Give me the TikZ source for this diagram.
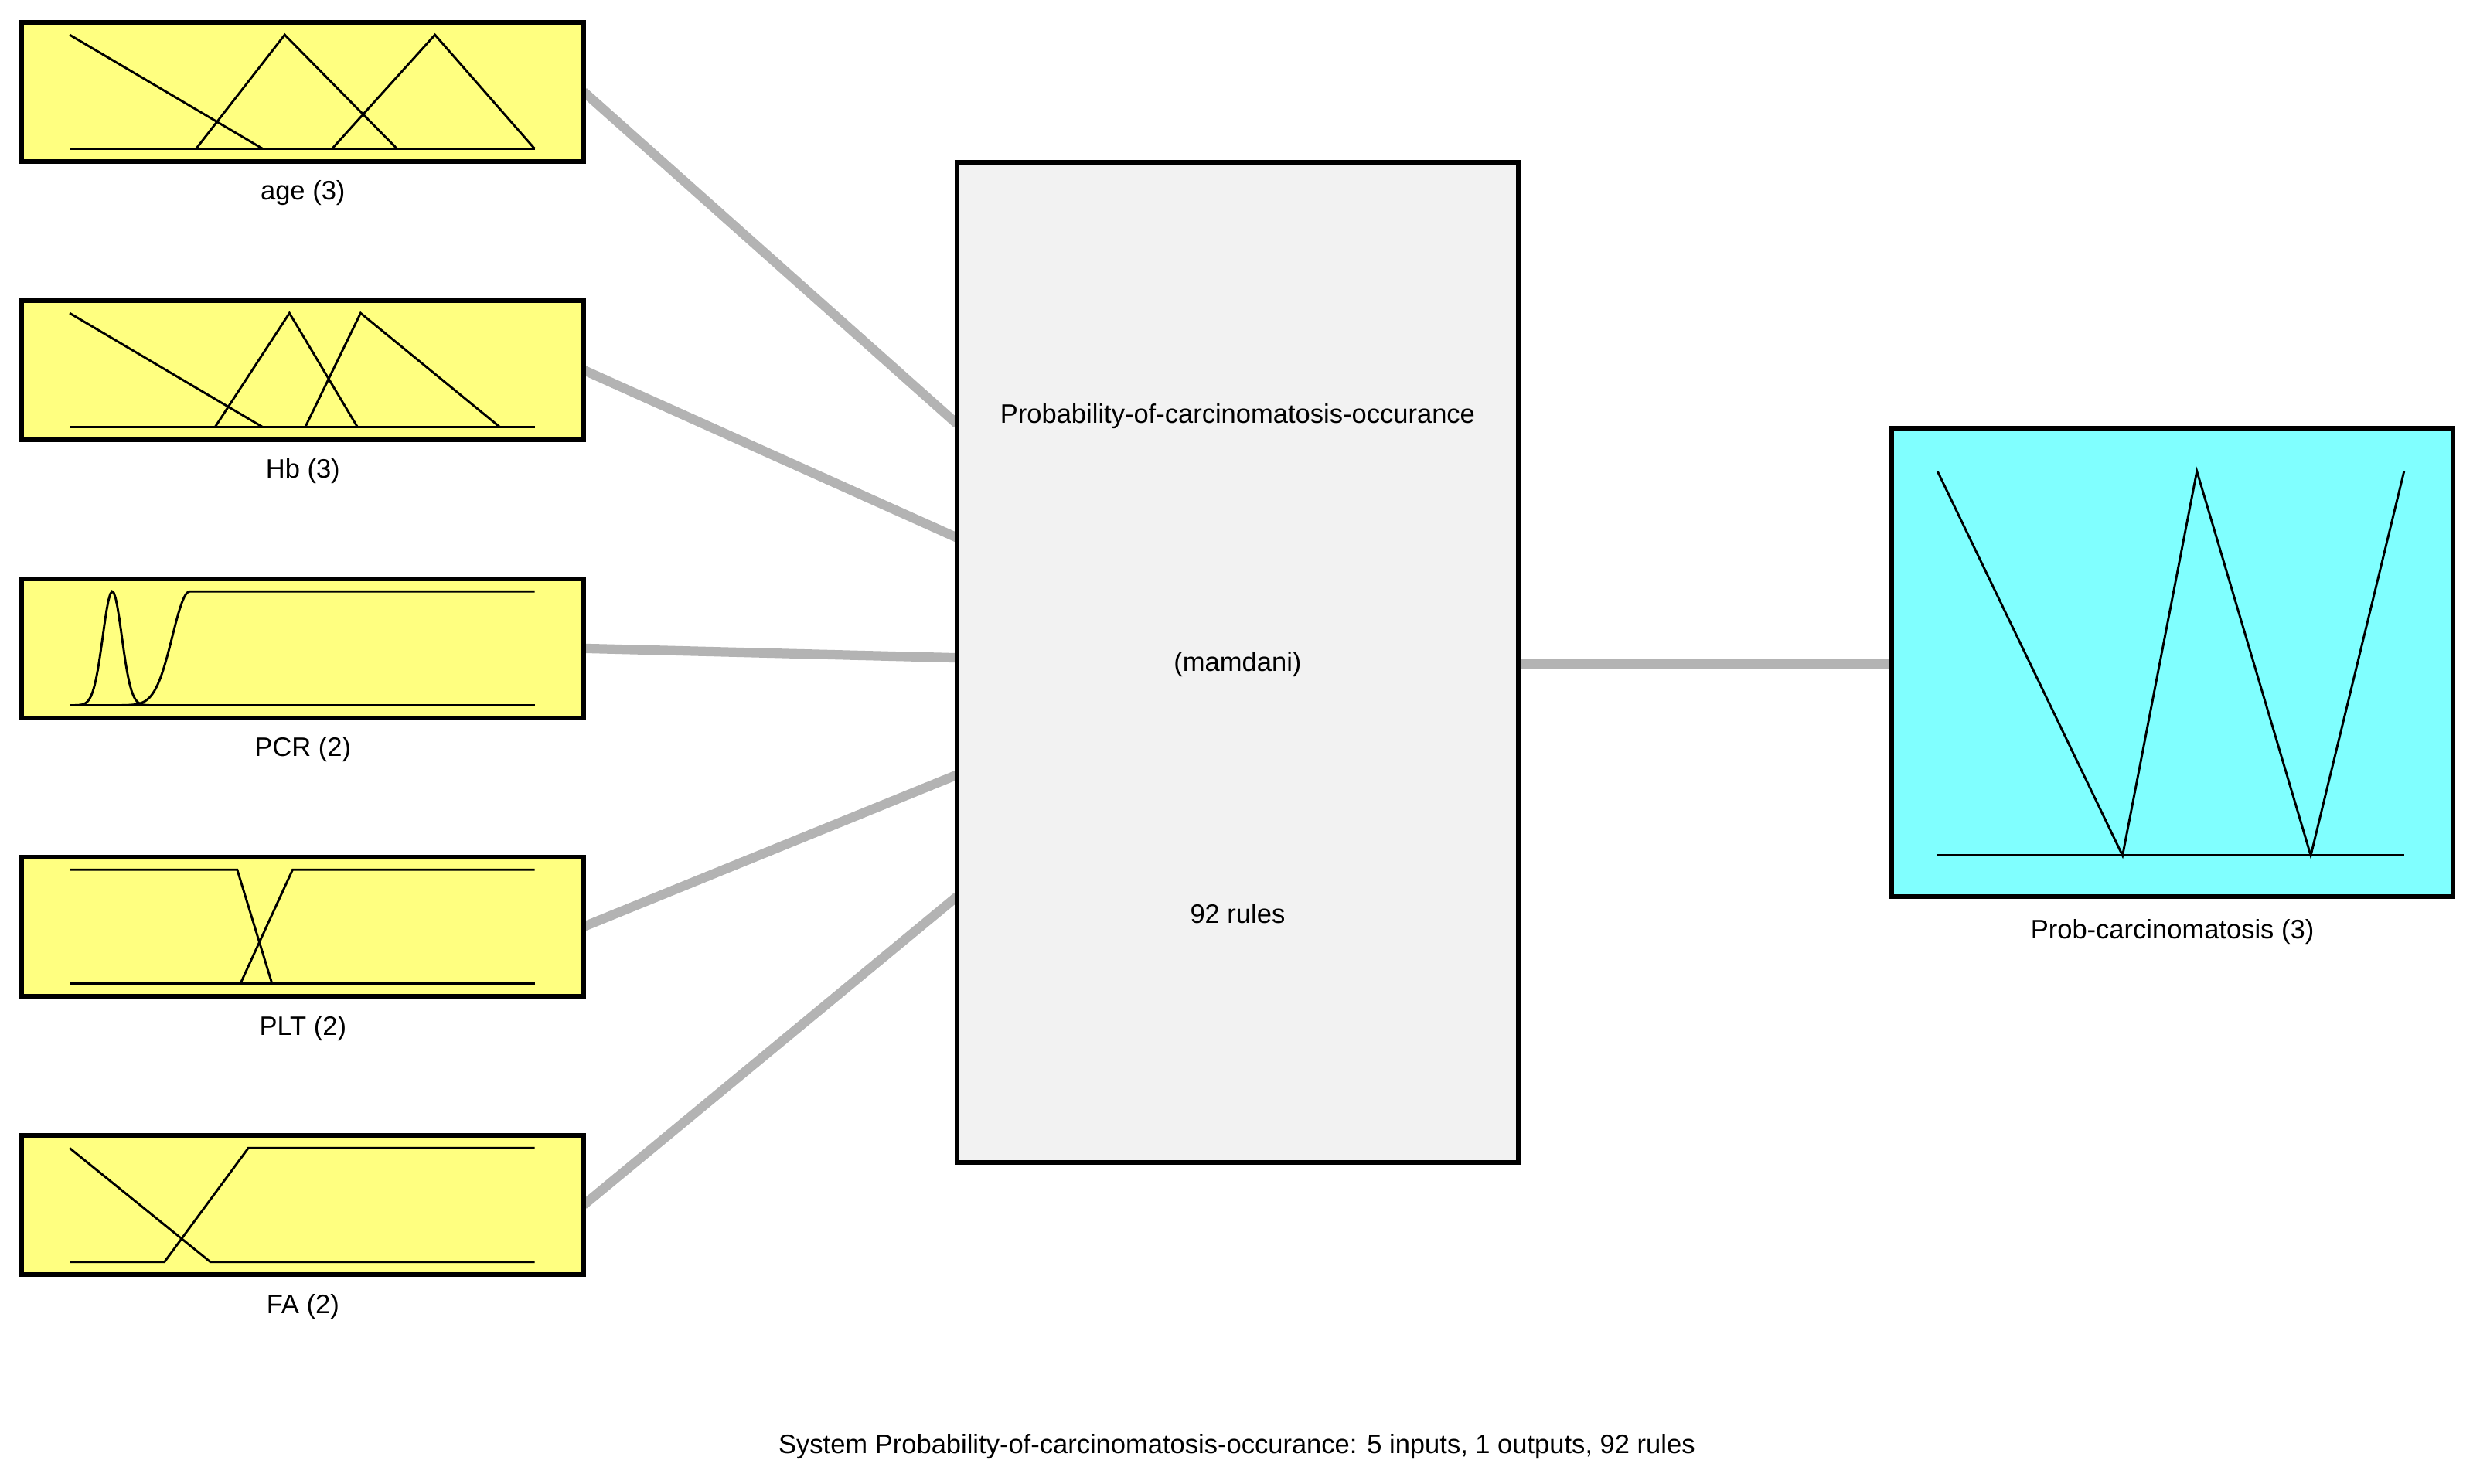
\documentclass[tikz,border=0pt]{standalone}
\usepackage{fontspec}
\setmainfont{Liberation Sans}
\usetikzlibrary{positioning}
\definecolor{inyellow}{RGB}{255, 255, 128}
\definecolor{outcyan}{RGB}{128, 255, 255}
\definecolor{rulegray}{RGB}{242, 242, 242}
\definecolor{linkgray}{RGB}{179, 179, 179}

\begin{document}
\begin{tikzpicture}[
        x=0.01cm, y=-0.01cm,
        every node/.style={font=\fontsize{4.8}{6}\selectfont, inner sep=0pt},
        varbox/.style={rectangle, draw=black, line width=0.85pt, fill=inyellow, minimum width=3.55cm, minimum height=0.88cm},
        outbox/.style={rectangle, draw=black, line width=0.85pt, fill=outcyan, minimum width=3.55cm, minimum height=2.96cm},
        rulebox/.style={rectangle, draw=black, line width=0.85pt, fill=rulegray, minimum width=3.55cm, minimum height=6.32cm},
        link/.style={draw=linkgray, line width=1.7pt},
        mf/.style={line width=0.4pt}
    ]
        \useasboundingbox (0,0) rectangle (1568,938);
        % links first, boxes on top
        \coordinate (l1) at (369,58);  \coordinate (r1) at (605,268);
        \coordinate (l2) at (369,234); \coordinate (r2) at (605,340);
        \coordinate (l3) at (369,410); \coordinate (r3) at (605,416);
        \coordinate (l4) at (369,586); \coordinate (r4) at (605,490);
        \coordinate (l5) at (369,762); \coordinate (r5) at (605,567);
        \coordinate (lo) at (960,420); \coordinate (ro) at (1196,420);
        \foreach \i in {1,...,5}
            \draw[link] (l\i) -- (r\i);
        \draw[link] (lo) -- (ro);

        \node[varbox] (age) at (191.5,58) {};
        \node[varbox] (hb)  at (191.5,234) {};
        \node[varbox] (pcr) at (191.5,410) {};
        \node[varbox] (plt) at (191.5,586) {};
        \node[varbox] (fa)  at (191.5,762) {};
        \node[rulebox] (rules) at (782.5,419) {};
        \node[outbox] (prob) at (1373.5,419) {};

        \node[below=0.1cm of age] {age (3)};
        \node[below=0.1cm of hb] {Hb (3)};
        \node[below=0.1cm of pcr] {PCR (2)};
        \node[below=0.1cm of plt] {PLT (2)};
        \node[below=0.1cm of fa] {FA (2)};
        \node[below=0.12cm of prob] {Prob-carcinomatosis (3)};
        \node at (782.5,263) {Probability-of-carcinomatosis-occurance};
        \node at (782.5,420) {(mamdani)};
        \node at (782.5,578) {92 rules};
        \node at (782,915) {System Probability-of-carcinomatosis-occurance: 5 inputs, 1 outputs, 92 rules};

        % membership functions
        \draw[mf] (44,94) -- (338,94);
        \draw[mf] (44,22) -- (166,94);
        \draw[mf] (124,94) -- (180,22) -- (251,94);
        \draw[mf] (210,94) -- (275,22) -- (338,94);

        \draw[mf] (44,270) -- (338,270);
        \draw[mf] (44,198) -- (166,270);
        \draw[mf] (136,270) -- (183,198) -- (226,270);
        \draw[mf] (193,270) -- (228,198) -- (316,270);

        \draw[mf] (44,446) -- (338,446);
        \draw[mf, domain=44:110, samples=60] plot (\x, {446-72*exp(-((\x-71)^2)/(2*6^2))});
        \draw[mf, domain=70:120, samples=50] plot (\x, {446-72*exp(-((\x-120)^2)/(2*11^2))}) -- (338,374);

        \draw[mf] (44,622) -- (338,622);
        \draw[mf] (44,550) -- (150,550) -- (172,622);
        \draw[mf] (152,622) -- (185,550) -- (338,550);

        \draw[mf] (44,726) -- (133,798) -- (338,798);
        \draw[mf] (44,798) -- (104,798) -- (157,726) -- (338,726);

        \draw[mf] (1225,541) -- (1520,541);
        \draw[mf] (1225,298) -- (1342,541) -- (1389,298) -- (1461,541) -- (1520,298);
    \end{tikzpicture}
\end{document}
